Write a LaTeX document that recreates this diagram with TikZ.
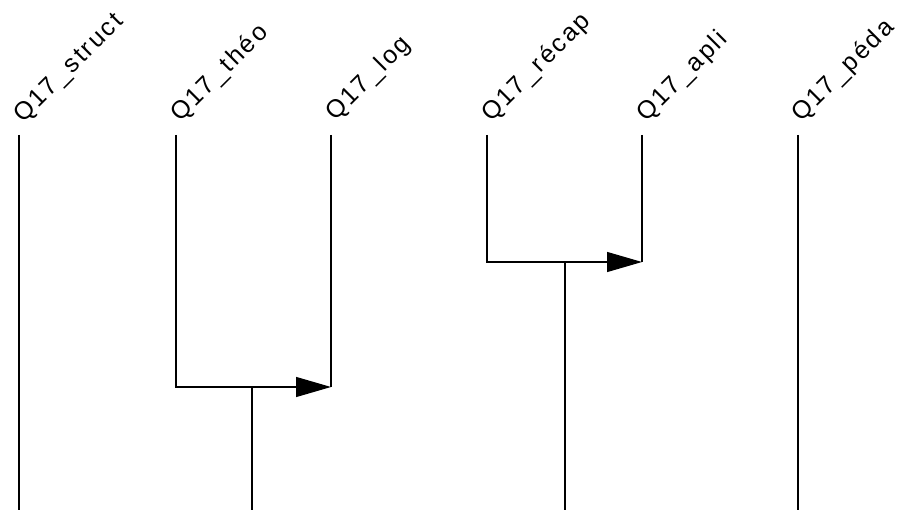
\documentclass[tikz,border=0pt]{standalone}
\usepackage{fontspec}
\setmainfont{Liberation Sans}
\newfontfamily\labfont[LetterSpace=9]{Liberation Sans}
\usetikzlibrary{arrows.meta}
\begin{document}
\begin{tikzpicture}[x=1pt,y=-1pt,
  line/.style={line width=1.3pt},
  arr/.style={line width=1.3pt,-{Triangle[length=35pt,width=20pt]}},
  lab/.style={rotate=45,anchor=base west,inner sep=0pt,font=\labfont\fontsize{25}{25}\selectfont}]
\useasboundingbox (0,0) rectangle (900,513);
% labels
\node[lab] (l1) at (23,124) {Q17\_struct};
\node[lab] (l2) at (180,123) {Q17\_théo};
\node[lab] (l3) at (335,122) {Q17\_log};
\node[lab] (l4) at (491,123) {Q17\_récap};
\node[lab] (l5) at (646,123) {Q17\_apli};
\node[lab] (l6) at (801,123) {Q17\_péda};
% top and bottom points
\coordinate (t1) at (19,135);  \coordinate (b1) at (19,510);
\coordinate (t2) at (176,135);
\coordinate (t3) at (331,135); \coordinate (e3) at (331,387);
\coordinate (t4) at (487,135);
\coordinate (t5) at (642,135); \coordinate (e5) at (642,262);
\coordinate (t6) at (798,135); \coordinate (b6) at (798,510);
\coordinate (j1) at (252,387); \coordinate (k1) at (252,510);
\coordinate (j2) at (565,262); \coordinate (k2) at (565,510);
% lines
\draw[line] (t1) -- (b1);
\draw[line] (t6) -- (b6);
\draw[line] (t3) -- (e3);
\draw[line] (t5) -- (e5);
\draw[arr] (t2) |- (e3);
\draw[arr] (t4) |- (e5);
\draw[line] (j1) -- (k1);
\draw[line] (j2) -- (k2);
\end{tikzpicture}
\end{document}
